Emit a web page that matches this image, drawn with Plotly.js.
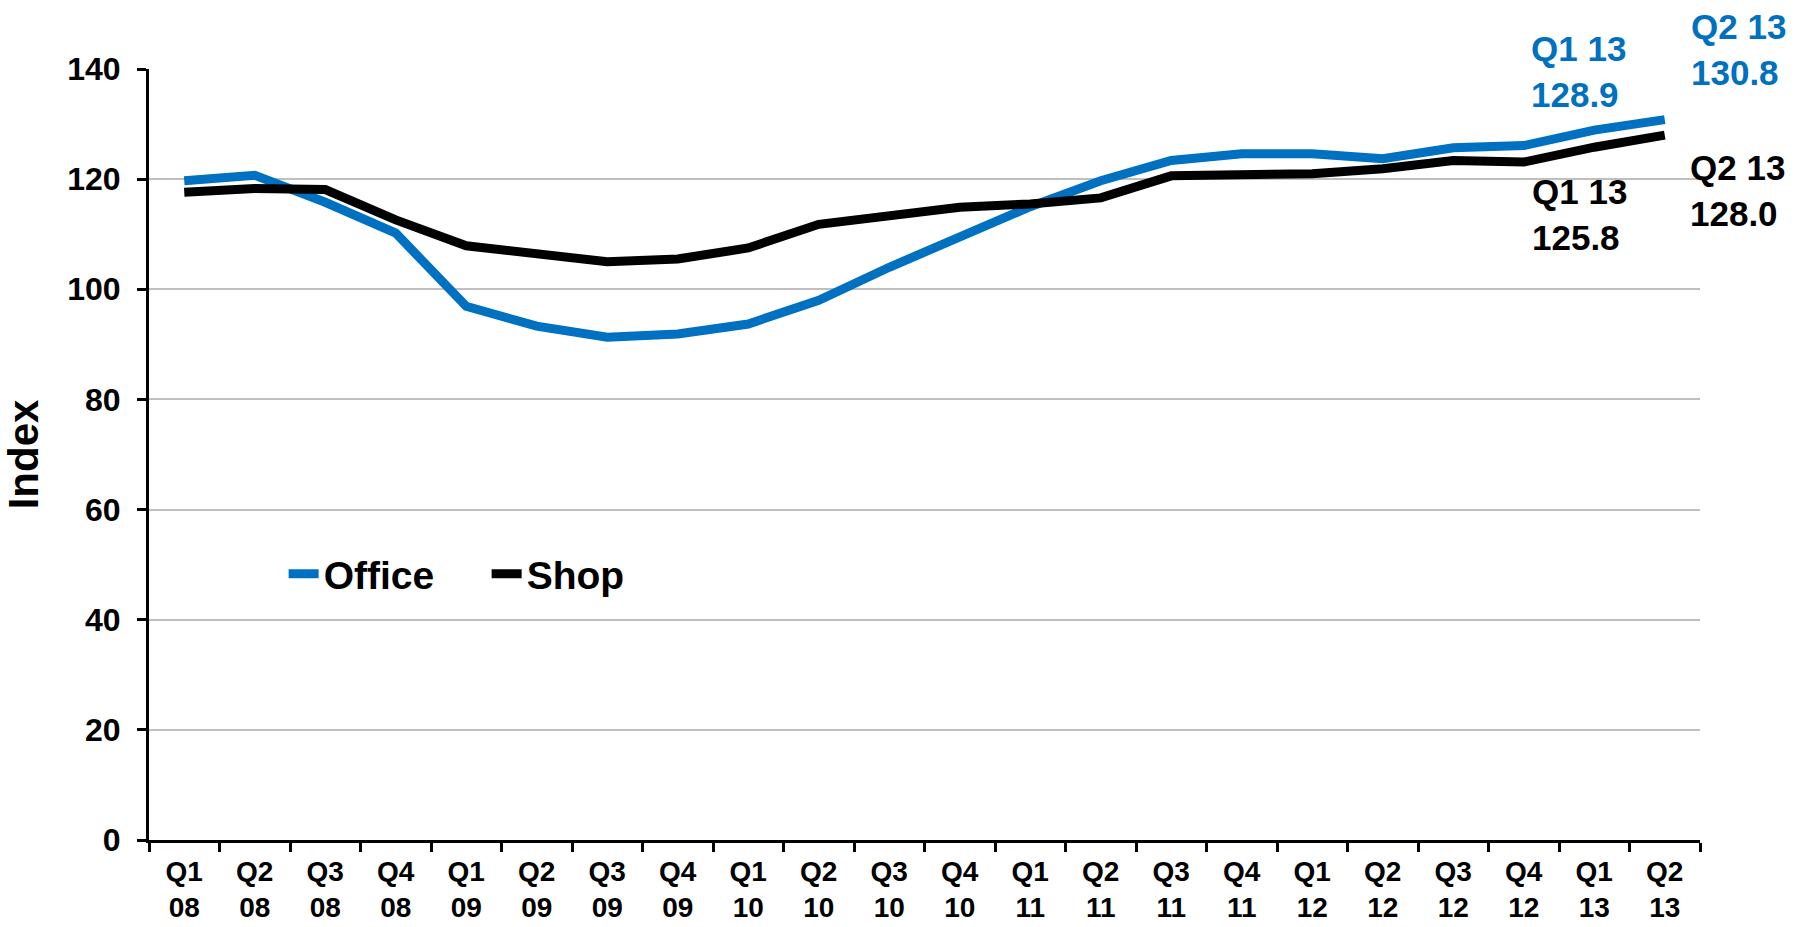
<!DOCTYPE html>
<html>
<head>
<meta charset="utf-8">
<script src="https://cdn.plot.ly/plotly-3.0.1.min.js"></script>
<style>
  html, body { margin: 0; padding: 0; background: #ffffff; }
  #chart { width: 1795px; height: 927px; }
</style>
</head>
<body>
<div id="chart"></div>
<script>
// ---- Data ----
const categories = [
  "Q1<br>08", "Q2<br>08", "Q3<br>08", "Q4<br>08",
  "Q1<br>09", "Q2<br>09", "Q3<br>09", "Q4<br>09",
  "Q1<br>10", "Q2<br>10", "Q3<br>10", "Q4<br>10",
  "Q1<br>11", "Q2<br>11", "Q3<br>11", "Q4<br>11",
  "Q1<br>12", "Q2<br>12", "Q3<br>12", "Q4<br>12",
  "Q1<br>13", "Q2<br>13"
];
const officeValues = [
  119.7, 120.7, 115.8, 110.2,
  96.9, 93.3, 91.3, 91.9,
  93.7, 98.0, 104.0, 109.3,
  115.0, 119.7, 123.4, 124.6,
  124.6, 123.7, 125.7, 126.1,
  128.9, 130.8
];
const shopValues = [
  117.6, 118.3, 118.1, 112.6,
  107.9, 106.4, 105.0, 105.5,
  107.5, 111.8, 113.2, 114.9,
  115.5, 116.6, 120.6, 120.8,
  121.0, 121.9, 123.4, 123.1,
  125.8, 128.0
];
const seriesNames = ["Office", "Shop"];
const yTickValues = [0, 20, 40, 60, 80, 100, 120, 140];
const yAxisTitle = "Index";
const endLabels = [
  { series: 0, index: 20, text: "Q1 13<br>128.9" },
  { series: 0, index: 21, text: "Q2 13<br>130.8" },
  { series: 1, index: 20, text: "Q1 13<br>125.8" },
  { series: 1, index: 21, text: "Q2 13<br>128.0" }
];

// ---- Styles ----
const BLUE = "#0070C0";
const BLACK = "#000000";
const FONT = "Liberation Sans, Arial, Helvetica, sans-serif";
const seriesColors = [BLUE, BLACK];
const seriesValues = [officeValues, shopValues];
const labelShifts = [
  { xshift: -16, yshift: 59 },
  { xshift: 74, yshift: 70 },
  { xshift: -15, yshift: -67 },
  { xshift: 73, yshift: -55 }
];

const traces = seriesNames.map((name, i) => ({
  type: "scatter",
  mode: "lines",
  name: name,
  x: categories,
  y: seriesValues[i],
  line: { color: seriesColors[i], width: 9 },
  hoverinfo: "x+y"
}));

const annotations = endLabels.map((lab, k) => ({
  x: categories[lab.index],
  y: seriesValues[lab.series][lab.index],
  xref: "x",
  yref: "y",
  text: lab.text,
  showarrow: false,
  xanchor: "center",
  yanchor: "middle",
  align: "left",
  xshift: labelShifts[k].xshift,
  yshift: labelShifts[k].yshift,
  font: { family: FONT, size: 35, color: seriesColors[lab.series], weight: "bold" }
}));

const layout = {
  width: 1795,
  height: 927,
  margin: { l: 149, r: 95, t: 69, b: 87, pad: 0 },
  paper_bgcolor: "#ffffff",
  plot_bgcolor: "#ffffff",
  font: { family: FONT, size: 28, color: "#000000", weight: "bold" },
  showlegend: true,
  legend: {
    orientation: "h",
    x: 0.0868,
    y: 0.345,
    xanchor: "left",
    yanchor: "middle",
    bgcolor: "rgba(0,0,0,0)",
    font: { family: FONT, size: 39, color: "#000000", weight: "bold" },
    entrywidth: 158,
    tracegroupgap: 0
  },
  xaxis: {
    type: "category",
    range: [-0.5, categories.length - 0.5],
    showline: true,
    linecolor: "#000000",
    linewidth: 3,
    showgrid: false,
    zeroline: false,
    ticks: "outside",
    tickson: "boundaries",
    ticklen: 9,
    tickwidth: 3,
    tickcolor: "#000000",
    ticklabelstandoff: 4,
    tickangle: 0,
    tickfont: { family: FONT, size: 28, color: "#000000", weight: "bold" },
    fixedrange: true
  },
  yaxis: {
    range: [0, 140],
    tickvals: yTickValues,
    ticktext: yTickValues.map(String),
    showline: true,
    linecolor: "#000000",
    linewidth: 3,
    showgrid: true,
    gridcolor: "#BFBFBF",
    gridwidth: 2,
    zeroline: false,
    ticks: "outside",
    ticklen: 9,
    tickwidth: 3,
    tickcolor: "#000000",
    ticklabelstandoff: 10,
    tickfont: { family: FONT, size: 32, color: "#000000", weight: "bold" },
    title: {
      text: yAxisTitle,
      font: { family: FONT, size: 42, color: "#000000", weight: "bold" },
      standoff: 22
    },
    fixedrange: true
  },
  annotations: annotations
};

Plotly.newPlot("chart", traces, layout, { displayModeBar: false, staticPlot: true });
</script>
</body>
</html>
